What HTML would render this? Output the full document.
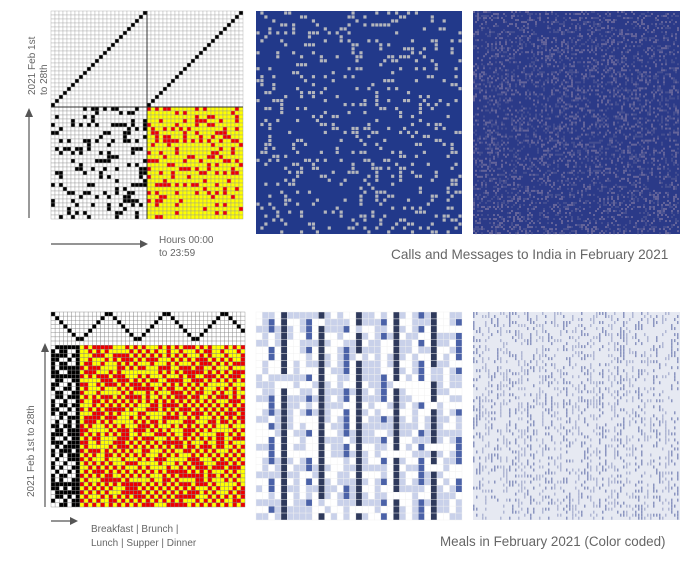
<!DOCTYPE html>
<html><head><meta charset="utf-8"><style>
body{margin:0;background:#fff;width:694px;height:562px;overflow:hidden;font-family:"Liberation Sans",sans-serif;}
svg{position:absolute;left:0;top:0}
</style></head><body>
<svg id="s" width="694" height="562"></svg>
<script>
// structure arrays (pattern parameters)
const callCols = 48;           // hours grid columns
const callRows = 28;           // days
const callHalf = 24;           // columns per half
const callDensity = [0.22];    // fraction of active cells (calls)
const mealThreadRows = 8;
const mealCols = 40;
const mealRows = 40;
const mealTieCols = 7;
const mealPeriod = 6;          // repeat width in bottom panels
const mealColumnShade = [0, 1, 2, 0, 3, 1];   // shade per column within period
const shadeColors = ['#ffffff', '#c9d1ea', '#4b62a8', '#2f3a5c'];
const titles = ['Calls and Messages to India in February 2021', 'Meals in February 2021 (Color coded)'];

const S = document.getElementById('s');
const NS = 'http://www.w3.org/2000/svg';
let seed = 7;
function rnd(){ seed = (seed*1103515245+12345) % 2147483648; return seed/2147483648; }
function R(x,y,w,h,f,st,name){
  const r=document.createElementNS(NS,'rect');
  r.setAttribute('x',x);r.setAttribute('y',y);r.setAttribute('width',w);r.setAttribute('height',h);
  r.setAttribute('fill',f); if(st){r.setAttribute('stroke',st);r.setAttribute('stroke-width',0.4);}
  
  
  S.appendChild(r); return r;
}
function T(x,y,txt,size,rot,name){
  const t=document.createElementNS(NS,'text');
  t.setAttribute('x',x);t.setAttribute('y',y);t.setAttribute('font-size',size);
  t.setAttribute('fill','#666');t.textContent=txt;
  if(rot) t.setAttribute('transform','rotate(-90 '+x+' '+y+')');
  
  
  S.appendChild(t);
}
function L(x1,y1,x2,y2,name,head){
  const l=document.createElementNS(NS,'line');
  l.setAttribute('x1',x1);l.setAttribute('y1',y1);l.setAttribute('x2',x2);l.setAttribute('y2',y2);
  l.setAttribute('stroke','#555');l.setAttribute('stroke-width',1.2);
  
  
  S.appendChild(l);
  const p=document.createElementNS(NS,'polygon');
  p.setAttribute('points',head);p.setAttribute('fill','#555');
  
  
  S.appendChild(p);
}

// ---------- Top-left: calls draft ----------
(function(){
  const x0=51,y0=11,w=192,h=208,cw=w/callCols,topRows=24,ch=4;
  const yMid=y0+topRows*ch;
  for(let r=0;r<topRows;r++)for(let c=0;c<callCols;c++){
    const cc=c%callHalf; const on=(cc===topRows-1-r);
    R(x0+c*cw,y0+r*ch,cw,ch,on?'#000':'#fff','#aaa','threading-cell');
  }
  const bh=(y0+h-yMid)/callRows;
  for(let r=0;r<callRows;r++)for(let c=0;c<callCols;c++){
    const on=rnd()<callDensity[0];
    const left=c<callHalf;
    R(x0+c*cw,yMid+r*bh,cw,bh,left?(on?'#000':'#fff'):(on?'#ee0000':'#ffff00'),'#999','call-cell');
  }
  R(x0,yMid-0.5,w,1,'#333',null,'divider-h');
  R(x0+callHalf*cw-0.5,y0,1,h,'#333',null,'divider-v');
  // middle blue
  const mx=256,my=11,mw=206,mh=223,n=52,cs=mw/n,nr=Math.round(mh/cs);
  R(mx,my,mw,mh,'#22398a',null,'calls-blue-panel');
  for(let r=0;r<nr;r++)for(let c=0;c<n;c++) if(rnd()<0.17) R(mx+c*cs+0.4,my+r*(mh/nr)+0.4,cs-0.8,mh/nr-0.8,'#b4b6bc',null,'call-cell-blue');
  // right textured
  const rx=473,rw=207;
  R(rx,my,rw,mh,'#2b3a88',null,'calls-fabric-panel');
  for(let r=0;r<111;r++)for(let c=0;c<103;c++) if(rnd()<0.3) R(rx+c*2,my+r*2.01,2,2,rnd()<0.5?'#64649a':'#444e90',null,'fabric-texel');
})();

// ---------- Bottom-left: meals draft ----------
(function(){
  const x0=51,y0=312,w=194,h=195,cw=w/47,ch=h/47;
  for(let r=0;r<47;r++)for(let c=0;c<47;c++){
    let f;
    if(r<mealThreadRows){
      const k=(c)%14; const d=k<7?k:13-k;
      f=(d===r)?'#000':'#fff';
    } else if(c<mealTieCols){
      f=((r+c)%3===0||rnd()<0.35)?'#000':'#fff';
      if(c===mealTieCols-1) f='#000';
    } else {
      f=((r+c)%2===0)^(rnd()<0.2)?'#ee0000':'#ffff00';
    }
    R(x0+c*cw,y0+r*ch,cw,ch,f,'#888','meal-cell');
  }
  // middle shaded panel
  const mx=256,my=312,mw=206,mh=208,nc=33,nr=30,cs=mw/nc,rs=mh/nr;
  for(let r=0;r<nr;r++)for(let c=0;c<nc;c++){
    let s=mealColumnShade[c%mealPeriod];
    if(s===3 && rnd()<0.12) s=0;
    if(s===2 && rnd()<0.6) s=0;
    if(s<2 && rnd()<0.4) s=s===0?1:0;
    R(mx+c*cs,my+r*rs,cs,rs,shadeColors[s],'#f0f0f0','meal-shade-cell');
  }
  // right fabric
  const rx=473,rw=207;
  R(rx,my,rw,mh,'#e6e9f2',null,'meals-fabric-panel');
  for(let r=0;r<69;r++)for(let c=0;c<69;c++){ if(rnd()<0.35) R(rx+c*3,my+r*3.01,1.5,3,(c%6<3)?'#8b95c0':'#b0b7d4',null,'fabric-thread'); }
})();

// ---------- Labels ----------
T(35,95,'2021 Feb 1st',10,true,'calls-y-label-1');
T(47,95,'to 28th',10,true,'calls-y-label-2');
L(29,218,29,115,'calls-y-arrow','25,117 33,117 29,108');
L(51,244,140,244,'calls-x-arrow','140,240 140,248 148,244');
T(159,243,'Hours 00:00',10,false,'hours-label-1');
T(159,256,'to 23:59',10,false,'hours-label-2');
T(391,259,titles[0],13.6,false,'calls-title');
T(34,497,'2021 Feb 1st to 28th',10,true,'meals-y-label');
L(45,507,45,350,'meals-y-arrow','41,352 49,352 45,343');
L(51,521,70,521,'meals-x-arrow','70,517 70,525 78,521');
T(91,532,'Breakfast | Brunch |',10,false,'meals-x-label-1');
T(91,546,'Lunch | Supper | Dinner',10,false,'meals-x-label-2');
T(440,546,titles[1],13.4,false,'meals-title');
</script>
</body></html>
